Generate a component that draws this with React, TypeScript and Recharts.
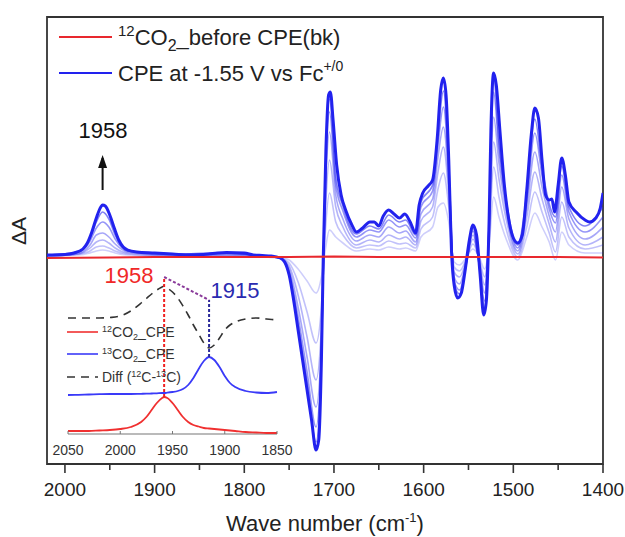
import { Line, LineChart, ReferenceArea, ReferenceLine, XAxis, YAxis } from 'recharts';

// main spectra, x = wavenumber (cm-1), v = ΔA
const finalWave = [
  2020, 2000, 1990, 1980, 1975, 1970, 1965, 1960, 1958, 1955, 1950, 1945, 1940, 1935, 1930, 1920, 1900, 1880,
  1860, 1840, 1830, 1820, 1800, 1790, 1780, 1770, 1760, 1755, 1750, 1745, 1740, 1735, 1730, 1725, 1720, 1717,
  1714, 1712, 1709, 1706, 1704, 1701, 1697, 1692, 1687, 1680, 1675, 1668, 1660, 1655, 1650, 1645, 1639, 1633,
  1627, 1621, 1615, 1609, 1605, 1601, 1595, 1590, 1585, 1581, 1578, 1575, 1572, 1569, 1566, 1562, 1558, 1554,
  1549, 1545, 1541, 1537, 1533, 1530, 1527, 1525, 1522, 1519, 1515, 1510, 1505, 1500, 1495, 1490, 1485, 1480,
  1476, 1472, 1468, 1464, 1460, 1457, 1454, 1450, 1446, 1442, 1438, 1430, 1420, 1415, 1408, 1403, 1400,
];
const finalDA = [
  0.002, 0.0025, 0.004, 0.008, 0.014, 0.025, 0.039, 0.05, 0.052, 0.051, 0.042, 0.029, 0.017, 0.01, 0.007, 0.005,
  0.004, 0.003, 0.002, 0.003, 0.004, 0.0045, 0.004, 0.002, 0.0015, 0.001, -0.001, -0.005, -0.018, -0.043, -0.073,
  -0.103, -0.133, -0.163, -0.193, -0.183, -0.103, -0.003, 0.107, 0.162, 0.165, 0.137, 0.092, 0.062, 0.047, 0.032,
  0.025, 0.029, 0.035, 0.035, 0.031, 0.041, 0.047, 0.043, 0.039, 0.043, 0.035, 0.024, 0.052, 0.064, 0.071, 0.077,
  0.117, 0.167, 0.179, 0.162, 0.097, 0.007, -0.028, -0.041, -0.036, -0.015, 0.017, 0.032, 0.022, -0.018, -0.058,
  -0.043, 0.037, 0.127, 0.184, 0.172, 0.127, 0.072, 0.037, 0.019, 0.014, 0.022, 0.067, 0.122, 0.149, 0.139, 0.097,
  0.062, 0.057, 0.058, 0.045, 0.072, 0.099, 0.082, 0.055, 0.045, 0.037, 0.035, 0.039, 0.049, 0.064,
];

// earlier spectra during CPE (lightest first)
const midWave = [
  2020, 1985, 1972, 1965, 1958, 1951, 1944, 1930, 1880, 1820, 1780, 1760, 1750, 1740, 1730, 1720, 1714, 1710,
  1705, 1698, 1690, 1675, 1660, 1650, 1639, 1627, 1620, 1609, 1603, 1590, 1584, 1578, 1572, 1566, 1560, 1552,
  1545, 1538, 1532, 1527, 1522, 1516, 1508, 1495, 1485, 1476, 1468, 1460, 1453, 1446, 1438, 1420, 1400,
];
const mid1 = [
  0.001, 0.002, 0.004, 0.006, 0.007, 0.006, 0.004, 0.002, 0.001, 0.001, 0, 0, -0.003, -0.012, -0.024, -0.036,
  -0.02, 0.005, 0.027, 0.02, 0.014, 0.006, 0.008, 0.007, 0.01, 0.008, 0.009, 0.006, 0.02, 0.03, 0.05, 0.054,
  0.035, -0.005, -0.008, 0, 0.008, 0, -0.012, 0.012, 0.06, 0.04, 0.018, -0.003, 0.02, 0.044, 0.03, 0.015,
  -0.003, 0.025, 0.012, 0.004, 0.004,
];
const mid2 = [
  0.001, 0.003, 0.006, 0.01, 0.011, 0.009, 0.006, 0.003, 0.001, 0.002, 0, -0.001, -0.006, -0.025, -0.055,
  -0.086, -0.05, 0.02, 0.064, 0.035, 0.022, 0.009, 0.012, 0.011, 0.016, 0.013, 0.014, 0.009, 0.028, 0.04,
  0.068, 0.084, 0.05, -0.01, -0.014, -0.001, 0.013, -0.002, -0.02, 0.018, 0.09, 0.06, 0.028, 0, 0.03, 0.065,
  0.045, 0.024, 0.005, 0.04, 0.02, 0.008, 0.012,
];
const mid3 = [
  0.001, 0.003, 0.009, 0.015, 0.017, 0.014, 0.009, 0.004, 0.002, 0.002, 0.001, -0.001, -0.009, -0.038, -0.08,
  -0.123, -0.07, 0.035, 0.097, 0.05, 0.03, 0.012, 0.017, 0.015, 0.022, 0.018, 0.02, 0.012, 0.036, 0.05, 0.085,
  0.11, 0.063, -0.015, -0.02, -0.002, 0.018, -0.004, -0.028, 0.024, 0.115, 0.078, 0.038, 0.003, 0.04, 0.085,
  0.058, 0.033, 0.015, 0.055, 0.029, 0.012, 0.02,
];
const mid4 = [
  0.002, 0.004, 0.012, 0.022, 0.024, 0.02, 0.013, 0.005, 0.002, 0.003, 0.001, -0.001, -0.012, -0.05, -0.1,
  -0.15, -0.085, 0.05, 0.125, 0.062, 0.038, 0.016, 0.022, 0.02, 0.03, 0.024, 0.026, 0.015, 0.043, 0.058, 0.1,
  0.13, 0.075, -0.02, -0.027, -0.003, 0.022, -0.006, -0.036, 0.029, 0.14, 0.094, 0.046, 0.006, 0.049, 0.105,
  0.07, 0.041, 0.025, 0.07, 0.038, 0.018, 0.03,
];
const mid5 = [
  0.002, 0.005, 0.016, 0.029, 0.035, 0.03, 0.018, 0.006, 0.003, 0.004, 0.001, -0.001, -0.015, -0.06, -0.115,
  -0.17, -0.095, 0.06, 0.145, 0.072, 0.046, 0.02, 0.027, 0.025, 0.037, 0.03, 0.032, 0.019, 0.05, 0.066, 0.112,
  0.15, 0.085, -0.024, -0.033, -0.004, 0.026, -0.008, -0.044, 0.033, 0.165, 0.107, 0.053, 0.009, 0.057, 0.124,
  0.082, 0.048, 0.034, 0.082, 0.045, 0.025, 0.04,
];
const mid6 = [
  0.002, 0.005, 0.019, 0.035, 0.045, 0.038, 0.022, 0.006, 0.003, 0.004, 0.001, -0.001, -0.017, -0.068, -0.125,
  -0.185, -0.1, 0.066, 0.158, 0.08, 0.051, 0.023, 0.031, 0.028, 0.042, 0.035, 0.037, 0.022, 0.055, 0.072, 0.122,
  0.166, 0.092, -0.027, -0.037, -0.005, 0.029, -0.009, -0.051, 0.035, 0.18, 0.115, 0.057, 0.012, 0.063, 0.138,
  0.09, 0.053, 0.04, 0.091, 0.05, 0.031, 0.05,
];
const midSeries = [mid1, mid2, mid3, mid4, mid5, mid6];
const midOpacity = [0.22, 0.28, 0.34, 0.4, 0.48, 0.56];

const bkWave = [2020, 1950, 1900, 1850, 1800, 1750, 1700, 1650, 1600, 1550, 1500, 1450, 1400];
const bkDA = [-0.001, -0.0005, 0, 0, 0, 0, 0.0005, 0, 0, 0, 0, 0, -0.0005];

const arrowWave = [1958, 1958];
const arrowDA = [0.067, 0.099];

const mainTicks = [2000, 1950, 1900, 1850, 1800, 1750, 1700, 1650, 1600, 1550, 1500, 1450, 1400];

// inset: 2050-1850 cm-1, stacked traces (a.u.)
const insetWave = [
  2050, 2040, 2030, 2020, 2010, 2000, 1990, 1980, 1975, 1970, 1965, 1960, 1958, 1955, 1950, 1945, 1940, 1935,
  1930, 1925, 1920, 1915, 1910, 1905, 1900, 1895, 1890, 1880, 1870, 1860, 1850,
];
const c12 = [
  0.03, 0.03, 0.03, 0.035, 0.04, 0.05, 0.07, 0.12, 0.17, 0.24, 0.31, 0.36, 0.37, 0.36, 0.31, 0.24, 0.17, 0.12,
  0.09, 0.075, 0.06, 0.055, 0.05, 0.045, 0.04, 0.035, 0.03, 0.02, 0.015, 0.01, 0.01,
];
const c13 = [
  0.39, 0.392, 0.395, 0.398, 0.4, 0.4, 0.4, 0.402, 0.403, 0.405, 0.407, 0.41, 0.41, 0.413, 0.42, 0.43, 0.45, 0.49,
  0.56, 0.65, 0.73, 0.77, 0.74, 0.67, 0.58, 0.51, 0.47, 0.43, 0.415, 0.41, 0.42,
];
const diff = [
  1.16, 1.16, 1.16, 1.16, 1.165, 1.18, 1.23, 1.31, 1.355, 1.4, 1.44, 1.47, 1.48, 1.46, 1.42, 1.36, 1.28, 1.19,
  1.09, 1.0, 0.91, 0.86, 0.89, 0.96, 1.04, 1.09, 1.12, 1.15, 1.16, 1.15, 1.14,
];
const insetTicks = [2050, 2025, 2000, 1975, 1950, 1925, 1900, 1875, 1850];
const redMark = { wave: [1958, 1958], v: [0.37, 1.57] };
const blueMark = { wave: [1915, 1915], v: [0.77, 1.34] };
const linkMark = { wave: [1958, 1915], v: [1.57, 1.34] };

const FONT = 'Arial, "Liberation Sans", sans-serif';
const BLUE = '#2222ee';

const pts = (w: number[], v: number[]) => w.map((x, i) => ({ w: x, v: v[i] }));

function MainTick(props: any) {
  const { x, y, payload } = props;
  const major = payload.value % 100 === 0;
  return (
    <g>
      <line x1={x} x2={x} y1={y} y2={y + (major ? 9 : 6)} stroke="#333" strokeWidth={1.6} />
      {major && (
        <text x={x} y={y + 32} textAnchor="middle" fontSize={19} fill="#222" fontFamily={FONT}>
          {payload.value}
        </text>
      )}
    </g>
  );
}

function InsetTick(props: any) {
  const { x, y, payload } = props;
  const major = payload.value % 50 === 0;
  return (
    <g>
      <line x1={x} x2={x} y1={y} y2={y - 3} stroke="#777" strokeWidth={1} />
      {major && (
        <text x={x} y={y + 21} textAnchor="middle" fontSize={14} fill="#333" fontFamily={FONT}>
          {payload.value}
        </text>
      )}
    </g>
  );
}

function ArrowHead(props: any) {
  const { cx, cy, index } = props;
  if (index !== 1) return <g key={`a${index}`} />;
  return <path key="head" d={`M${cx},${cy - 3} L${cx - 4.5},${cy + 10} L${cx + 4.5},${cy + 10} Z`} fill="#111" />;
}

function XTitle() {
  return (
    <text x={325} y={531} textAnchor="middle" fontSize={22} fill="#222" fontFamily={FONT}>
      Wave number (cm
      <tspan dy={-9} fontSize={13}>
        -1
      </tspan>
      <tspan dy={9}>)</tspan>
    </text>
  );
}

export default function App() {
  return (
    <div style={{ position: 'absolute', left: 0, top: 0, width: 625, height: 537, background: '#fff' }}>
      <LineChart width={625} height={537} margin={{ top: 17, right: 22, left: 47, bottom: 0 }}>
        <XAxis
          dataKey="w"
          type="number"
          domain={[1400, 2020]}
          reversed
          allowDataOverflow
          ticks={mainTicks}
          tick={<MainTick />}
          tickLine={false}
          tickSize={0}
          tickMargin={0}
          height={73}
          axisLine={false}
          label={<XTitle />}
        />
        <YAxis type="number" domain={[-0.207, 0.24]} allowDataOverflow hide width={0} />
        <ReferenceArea
          x1={2020}
          x2={1400}
          y1={-0.207}
          y2={0.24}
          fill="none"
          fillOpacity={0}
          stroke="#333"
          strokeWidth={1.8}
          ifOverflow="visible"
        />
        {midSeries.map((s, k) => (
          <Line
            key={`mid${k}`}
            data={pts(midWave, s)}
            dataKey="v"
            type="monotone"
            stroke={BLUE}
            strokeOpacity={midOpacity[k]}
            strokeWidth={1.6}
            dot={false}
            isAnimationActive={false}
          />
        ))}
        <Line
          data={pts(finalWave, finalDA)}
          dataKey="v"
          type="monotone"
          stroke={BLUE}
          strokeWidth={3}
          dot={false}
          isAnimationActive={false}
        />
        <Line
          data={pts(bkWave, bkDA)}
          dataKey="v"
          type="linear"
          stroke="#e8282e"
          strokeWidth={2}
          dot={false}
          isAnimationActive={false}
        />
        <Line
          data={pts(arrowWave, arrowDA)}
          dataKey="v"
          type="linear"
          stroke="#111"
          strokeWidth={2}
          dot={<ArrowHead />}
          isAnimationActive={false}
        />
      </LineChart>

      <div style={{ position: 'absolute', left: 48, top: 270 }}>
        <LineChart width={249} height={190} margin={{ top: 0, right: 20, left: 20, bottom: 0 }}>
          <XAxis
            dataKey="w"
            type="number"
            domain={[1850, 2050]}
            reversed
            ticks={insetTicks}
            tick={<InsetTick />}
            tickLine={false}
            tickSize={0}
            tickMargin={0}
            height={26}
            axisLine={false}
          />
          <YAxis type="number" domain={[0, 1.64]} allowDataOverflow hide width={0} />
          <ReferenceLine y={0} stroke="#777" strokeWidth={1.2} ifOverflow="visible" />
          <Line data={pts(insetWave, diff)} dataKey="v" type="monotone" stroke="#333" strokeWidth={1.6}
            strokeDasharray="8 6" dot={false} isAnimationActive={false} />
          <Line data={pts(insetWave, c13)} dataKey="v" type="monotone" stroke="#3a3af8" strokeWidth={1.8}
            dot={false} isAnimationActive={false} />
          <Line data={pts(insetWave, c12)} dataKey="v" type="monotone" stroke="#f03030" strokeWidth={1.8}
            dot={false} isAnimationActive={false} />
          <Line data={pts(redMark.wave, redMark.v)} dataKey="v" type="linear" stroke="#f02020" strokeWidth={2}
            strokeDasharray="3 2" dot={false} isAnimationActive={false} />
          <Line data={pts(blueMark.wave, blueMark.v)} dataKey="v" type="linear" stroke="#2a2a9a" strokeWidth={2}
            strokeDasharray="3 2" dot={false} isAnimationActive={false} />
          <Line data={pts(linkMark.wave, linkMark.v)} dataKey="v" type="linear" stroke="#8a3a9a" strokeWidth={2}
            strokeDasharray="3 2" dot={false} isAnimationActive={false} />
        </LineChart>
      </div>

      <svg width={625} height={537} style={{ position: 'absolute', left: 0, top: 0, pointerEvents: 'none' }}
        fontFamily={FONT}>
        <text x={26} y={231} transform="rotate(-90 26 231)" textAnchor="middle" fontSize={21} fill="#222">
          ΔA
        </text>
        <line x1={59} x2={112} y1={37} y2={37} stroke="#e8282e" strokeWidth={2} />
        <text x={118} y={45} fontSize={22} fill="#222">
          <tspan fontSize={15} dy={-9}>12</tspan>
          <tspan dy={9}>CO</tspan>
          <tspan fontSize={16} dy={6}>2</tspan>
          <tspan dy={-6}>_before CPE(bk)</tspan>
        </text>
        <line x1={59} x2={112} y1={73} y2={73} stroke={BLUE} strokeWidth={2} />
        <text x={118} y={81} fontSize={22} fill="#222">
          CPE at -1.55 V vs Fc
          <tspan fontSize={14} dy={-10}>+/0</tspan>
        </text>
        <text x={103} y={138} textAnchor="middle" fontSize={22} fill="#111">1958</text>

        <text x={129} y={283} textAnchor="middle" fontSize={22} fill="#f02828">1958</text>
        <text x={235} y={298} textAnchor="middle" fontSize={22} fill="#2b2bb0">1915</text>

        <line x1={67} x2={98} y1={332} y2={332} stroke="#f03030" strokeWidth={1.6} />
        <text x={102} y={337} fontSize={14} fill="#333">
          <tspan fontSize={9} dy={-5}>12</tspan>
          <tspan dy={5}>CO</tspan>
          <tspan fontSize={9} dy={3}>2</tspan>
          <tspan dy={-3}>_CPE</tspan>
        </text>
        <line x1={67} x2={98} y1={354} y2={354} stroke="#3a3af8" strokeWidth={1.6} />
        <text x={102} y={359} fontSize={14} fill="#333">
          <tspan fontSize={9} dy={-5}>13</tspan>
          <tspan dy={5}>CO</tspan>
          <tspan fontSize={9} dy={3}>2</tspan>
          <tspan dy={-3}>_CPE</tspan>
        </text>
        <line x1={67} x2={98} y1={377} y2={377} stroke="#333" strokeWidth={1.6} strokeDasharray="8 6" />
        <text x={102} y={382} fontSize={14} fill="#333">
          Diff (<tspan fontSize={9} dy={-5}>12</tspan>
          <tspan dy={5}>C-</tspan>
          <tspan fontSize={9} dy={-5}>13</tspan>
          <tspan dy={5}>C)</tspan>
        </text>
      </svg>
    </div>
  );
}
